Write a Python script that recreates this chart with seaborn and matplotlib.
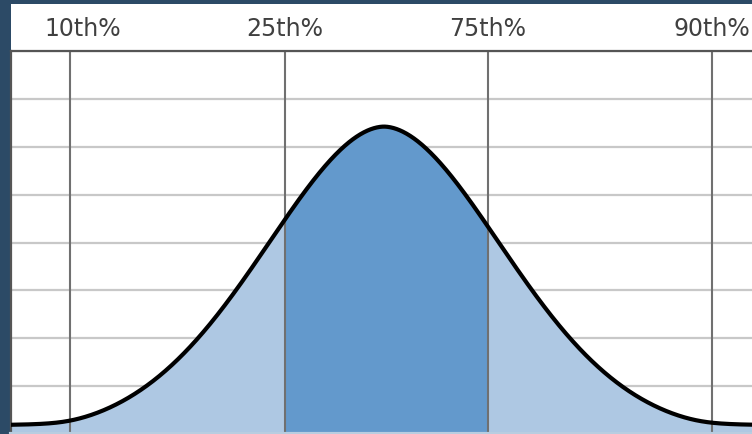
import numpy as np
import pandas as pd
import matplotlib
matplotlib.use("Agg")
import matplotlib.pyplot as plt
import matplotlib.transforms as mtransforms
from matplotlib.patches import Rectangle
import seaborn as sns

# ---- data ----
percentile_labels = ["10th%", "25th%", "75th%", "90th%"]
percentile_x = [-2.85, -0.90, 0.945, 2.98]      # marker positions on the x scale
curve_center = 0.0
curve_scale = 1.58                                 # width parameter of the bell
curve_power = 1.85                                 # shape exponent of the bell
curve_floor = 0.04                                 # tail cut-off level
curve_peak = 6.26                                  # peak height in grid units
curve_base = 0.16                                  # baseline offset in grid units
x_range = (-3.39, 3.345)
y_range = (0, 8)

sns.set_style("white")
plt.rcParams["font.family"] = ["DejaVu Sans"]

BG = "#2c4a66"
LIGHT = "#aec8e3"
DARK = "#6399cc"

fig = plt.figure(figsize=(7.52, 4.34), dpi=100, facecolor=BG)
W, H = 752, 434
# white panel behind labels and plot
fig.patches.append(Rectangle((11 / W, 0), 1 - 11 / W, (H - 4) / H,
                             transform=fig.transFigure, facecolor="white",
                             edgecolor="none", zorder=-10))
ax = fig.add_axes([11 / W, 0 / H, 1 - 11 / W, (H - 51) / H])
ax.set_zorder(5)
ax.set_facecolor("white")

xs = np.linspace(x_range[0], x_range[1], 1200)
bell = np.exp(-(np.abs(xs - curve_center) / curve_scale) ** curve_power)
z = (bell - curve_floor) / (1 - curve_floor)
eps = 0.025
rel = 0.5 * (z + np.sqrt(z ** 2 + eps ** 2))      # smooth approach to the baseline
ys = curve_base + curve_peak * rel
df = pd.DataFrame({"x": xs, "y": ys})

# fills
ax.fill_between(xs, 0, ys, color=LIGHT, lw=0, zorder=1)
mid = (xs >= percentile_x[1]) & (xs <= percentile_x[2])
ax.fill_between(xs[mid], 0, ys[mid], color=DARK, lw=0, zorder=1.1)

# horizontal grid
ax.set_yticks(np.arange(y_range[0], y_range[1] + 1, 1))
ax.yaxis.grid(True, color="#c8c8c8", lw=1.6, zorder=0.5)
ax.set_axisbelow(True)
ax.tick_params(axis="y", left=False, labelleft=False)

# percentile lines
for px in percentile_x:
    ax.axvline(px, color="#707070", lw=1.5, zorder=2)

sns.lineplot(data=df, x="x", y="y", color="black", lw=3.0, ax=ax, zorder=3)

ax.set_xlim(*x_range)
ax.set_ylim(*y_range)
ax.set_xlabel("")
ax.set_ylabel("")

ax.xaxis.tick_top()
ax.set_xticks(percentile_x)
ax.set_xticklabels(percentile_labels, fontsize=17, color="#404040")
ax.tick_params(axis="x", top=False, bottom=False, pad=4)
lab0 = ax.get_xticklabels()[0]
lab0.set_transform(lab0.get_transform() +
                   mtransforms.ScaledTranslation(12 / 100, 0, fig.dpi_scale_trans))

for s in ["top", "left"]:
    ax.spines[s].set_color("#555555")
    ax.spines[s].set_linewidth(1.6)
ax.spines["right"].set_visible(False)
ax.spines["bottom"].set_color("#b8cde0")
ax.spines["bottom"].set_linewidth(3)

fig.savefig("out.png", dpi=100, facecolor=BG)
